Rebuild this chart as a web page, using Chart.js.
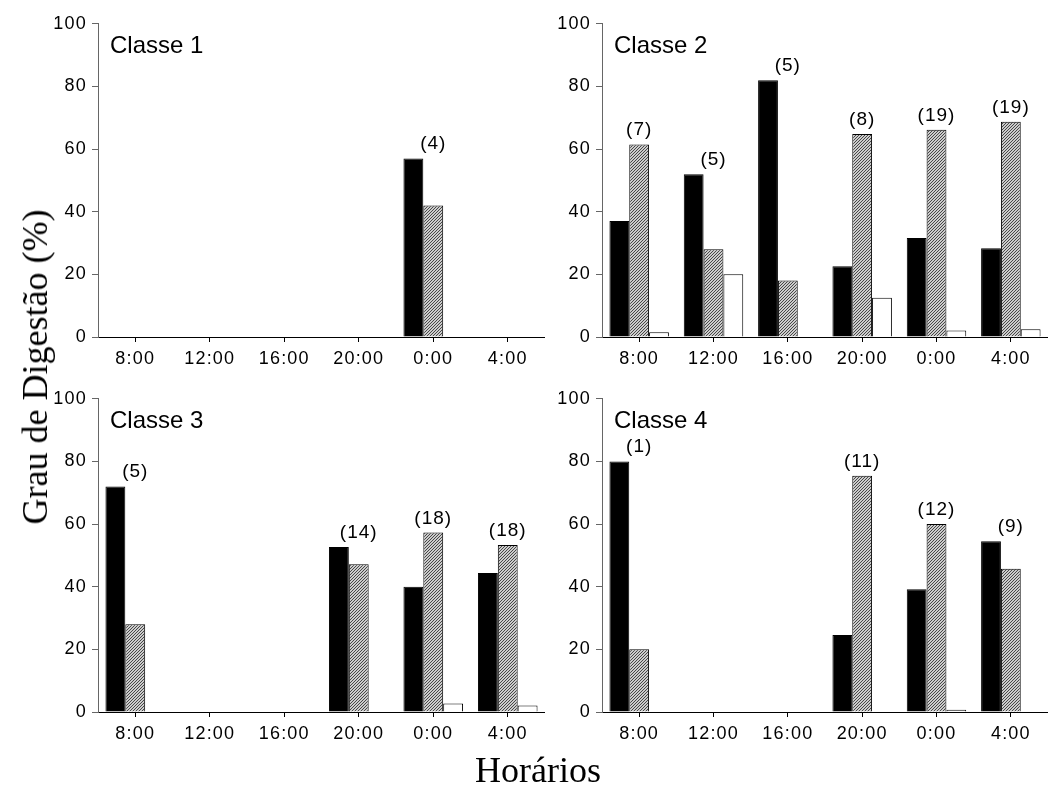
<!DOCTYPE html>
<html>
<head>
<meta charset="utf-8">
<script src="https://cdn.jsdelivr.net/npm/chart.js@4/dist/chart.umd.min.js"></script>
<style>
  html, body { margin: 0; padding: 0; background: #fff; overflow: hidden; }
  #wrap { position: relative; width: 1048px; height: 791px; }
  canvas { position: absolute; }
  .eixo { position: absolute; font-family: "Liberation Serif", "Times New Roman", serif; font-size: 36px; color: #000; white-space: nowrap; }
  #tituloY { left: 35px; top: 367px; transform: translate(-50%, -50%) rotate(-90deg); }
  #tituloX { left: 538px; top: 770px; transform: translate(-50%, -50%); }
</style>
</head>
<body>
<div id="wrap">
  <canvas id="classe1"></canvas>
  <canvas id="classe2"></canvas>
  <canvas id="classe3"></canvas>
  <canvas id="classe4"></canvas>
  <div class="eixo" id="tituloY">Grau de Digestão (%)</div>
  <div class="eixo" id="tituloX">Horários</div>
</div>
<script>
const horarios = ['8:00', '12:00', '16:00', '20:00', '0:00', '4:00'];

// Classe 1
const c1_preto   = [0, 0, 0, 0, 57, 0];
const c1_hachura = [0, 0, 0, 0, 42, 0];
const c1_branco  = [0, 0, 0, 0, 0, 0];
const c1_n       = [null, null, null, null, 4, null];

// Classe 2
const c2_preto   = [37, 52, 82, 22.6, 31.6, 28.3];
const c2_hachura = [61.5, 28, 18, 64.8, 66.2, 68.7];
const c2_branco  = [1.5, 20, 0, 12.5, 2.1, 2.5];
const c2_n       = [7, 5, 5, 8, 19, 19];

// Classe 3
const c3_preto   = [72, 0, 0, 52.7, 40, 44.4];
const c3_hachura = [28, 0, 0, 47.2, 57.3, 53.3];
const c3_branco  = [0, 0, 0, 0, 2.7, 2.1];
const c3_n       = [5, null, null, 14, 18, 18];

// Classe 4
const c4_preto   = [80, 0, 0, 24.6, 39.2, 54.5];
const c4_hachura = [20, 0, 0, 75.4, 60, 45.7];
const c4_branco  = [0, 0, 0, 0, 0.7, 0];
const c4_n       = [1, null, null, 11, 12, 9];

// hachura diagonal fina (ladrilho 3x3)
function criaHachura() {
  const p = document.createElement('canvas');
  p.width = 3; p.height = 3;
  const g = p.getContext('2d');
  g.fillStyle = '#cccccc';
  g.fillRect(0, 0, 3, 3);
  g.fillStyle = '#474747';
  g.fillRect(0, 2, 1, 1);
  g.fillRect(1, 1, 1, 1);
  g.fillRect(2, 0, 1, 1);
  return g.createPattern(p, 'repeat');
}
const hachura = criaHachura();

const EIXO_Y = 60, EIXO_X = 42, TOPO = 14;
const fonteTick = { family: 'Liberation Sans', size: 18 };

// espaçamento entre letras dos ticks (o canvas perde o estado ao redimensionar)
const espacoPlugin = {
  id: 'espaco',
  beforeDraw(chart) { chart.ctx.letterSpacing = '1.2px'; }
};

// rótulo "Classe N" e os (n) acima de cada grupo
const textosPlugin = {
  id: 'textos',
  afterDatasetsDraw(chart, args, opts) {
    const ctx = chart.ctx;
    const xs = chart.scales.x, ys = chart.scales.y;
    ctx.save();
    ctx.fillStyle = '#000';
    ctx.letterSpacing = '0px';
    ctx.font = '24px "Liberation Sans", Arial, sans-serif';
    ctx.textAlign = 'left';
    ctx.textBaseline = 'middle';
    ctx.fillText(opts.titulo, chart.chartArea.left + 12, chart.chartArea.top + 23);

    ctx.letterSpacing = '1px';
    ctx.font = '19px "Liberation Sans", Arial, sans-serif';
    ctx.textAlign = 'center';
    ctx.textBaseline = 'alphabetic';
    opts.n.forEach((n, i) => {
      if (n === null) return;
      const topo = Math.max(...chart.data.datasets.map(d => d.data[i]));
      ctx.fillText('(' + n + ')', xs.getPixelForValue(i), ys.getPixelForValue(topo) - 9);
    });
    ctx.restore();
  }
};

function desenhaPainel(id, titulo, preto, hach, branco, n, L, T, R, B) {
  const canvas = document.getElementById(id);
  canvas.width = R - L + EIXO_Y;
  canvas.height = B - T + TOPO + EIXO_X;
  canvas.style.left = (L - EIXO_Y) + 'px';
  canvas.style.top = (T - TOPO) + 'px';

  new Chart(canvas.getContext('2d'), {
    type: 'bar',
    data: {
      labels: horarios,
      datasets: [
        { data: preto, backgroundColor: '#000', borderColor: '#000', borderWidth: 1 },
        { data: hach, backgroundColor: hachura, borderColor: '#000', borderWidth: 1 },
        { data: branco, backgroundColor: '#fff', borderColor: '#000', borderWidth: 1 }
      ]
    },
    options: {
      responsive: false,
      animation: false,
      categoryPercentage: 0.8,
      barPercentage: 1.0,
      layout: { padding: { top: TOPO, left: 0, right: 0, bottom: 0 } },
      plugins: {
        legend: { display: false },
        tooltip: { enabled: false },
        textos: { titulo: titulo, n: n }
      },
      scales: {
        x: {
          afterFit: s => { s.height = EIXO_X; },
          grid: { offset: false, drawOnChartArea: false, tickLength: 5, color: '#000' },
          border: { color: '#000', width: 1 },
          ticks: { color: '#000', font: fonteTick, padding: 6, maxRotation: 0, autoSkip: false }
        },
        y: {
          min: 0, max: 100,
          afterFit: s => { s.width = EIXO_Y; },
          grid: { drawOnChartArea: false, tickLength: 6, color: '#666' },
          border: { color: '#666', width: 1 },
          ticks: { stepSize: 20, color: '#000', font: fonteTick, padding: 5 }
        }
      }
    },
    plugins: [espacoPlugin, textosPlugin]
  });
}

desenhaPainel('classe1', 'Classe 1', c1_preto, c1_hachura, c1_branco, c1_n, 98, 22, 545, 337);
desenhaPainel('classe2', 'Classe 2', c2_preto, c2_hachura, c2_branco, c2_n, 602, 22, 1048, 337);
desenhaPainel('classe3', 'Classe 3', c3_preto, c3_hachura, c3_branco, c3_n, 98, 397, 545, 712);
desenhaPainel('classe4', 'Classe 4', c4_preto, c4_hachura, c4_branco, c4_n, 602, 397, 1048, 712);
</script>
</body>
</html>
